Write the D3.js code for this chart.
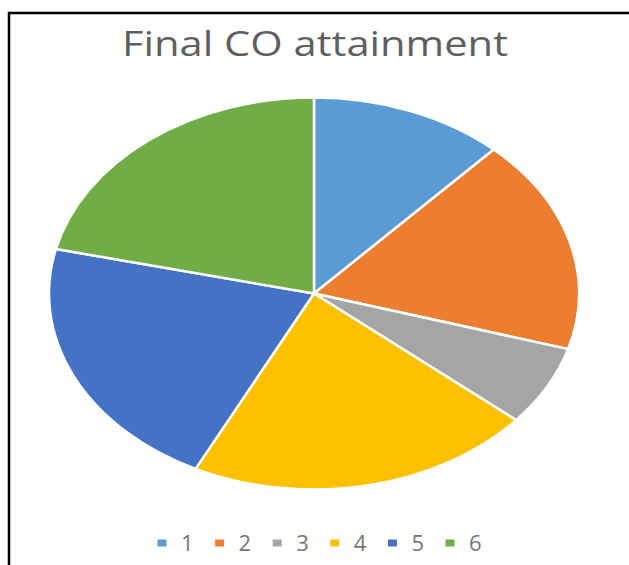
<!DOCTYPE html>
<html><head><meta charset="utf-8">
<script src="https://cdn.jsdelivr.net/npm/d3@7"></script>
<style>html,body{margin:0;padding:0;background:#fff;overflow:hidden}</style>
</head><body>
<svg id="chart" width="629" height="565"></svg>
<script>
const categories = ["1", "2", "3", "4", "5", "6"];
const values = [1.40, 2.09, 0.78, 2.50, 2.51, 2.52];
const colors = ["#5B9BD5", "#ED7D31", "#A5A5A5", "#FFC000", "#4472C4", "#70AD47"];
const title = "Final CO attainment";

const svg = d3.select("#chart");
// frame (top-left corner of a cropped border)
svg.append("rect").attr("x", 9).attr("y", 13).attr("width", 700).attr("height", 700)
  .attr("fill", "#fff").attr("stroke", "#000").attr("stroke-width", 2.5);

svg.append("text").attr("x", 315).attr("y", 56).attr("text-anchor", "middle")
  .attr("font-family", "Open Sans, sans-serif").attr("font-size", 35)
  .attr("textLength", 386).attr("lengthAdjust", "spacingAndGlyphs")
  .attr("fill", "#5f5f5f").text(title);

const cx = 314, cy = 293.5, rx = 265, ry = 196;
const R = 100;
const pie = d3.pie().sort(null).value(d => d.v);
const arc = d3.arc().innerRadius(0).outerRadius(R);
const data = categories.map((c, i) => ({c, v: values[i]}));
const color = d3.scaleOrdinal().domain(categories).range(colors);

const g = svg.append("g").attr("transform", `translate(${cx},${cy}) scale(${rx / R},${ry / R})`);
g.selectAll("path").data(pie(data)).join("path")
  .attr("d", arc).attr("fill", d => color(d.data.c))
  .attr("stroke", "#fff").attr("stroke-width", 2.5)
  .attr("vector-effect", "non-scaling-stroke");

const legX = d3.scalePoint().domain(categories).range([162, 450]);
const leg = svg.append("g");
const items = leg.selectAll("g").data(categories).join("g")
  .attr("transform", d => `translate(${legX(d)},543)`);
items.append("rect").attr("x", -4.5).attr("y", -3.5).attr("width", 9).attr("height", 7)
  .attr("fill", d => color(d));
items.append("text").attr("x", 19).attr("y", 8).attr("font-family", "Open Sans, sans-serif")
  .attr("font-size", 22).attr("fill", "#777").text(d => d);
</script>
</body></html>
